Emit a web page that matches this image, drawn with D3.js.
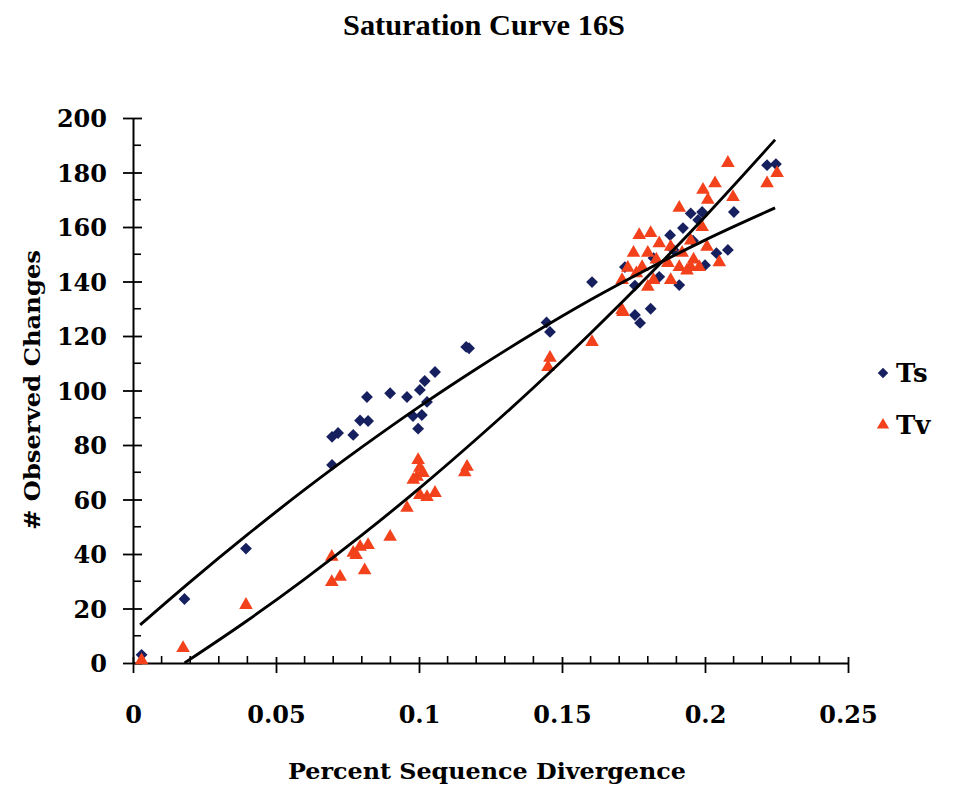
<!DOCTYPE html>
<html><head><meta charset="utf-8">
<script src="https://cdn.jsdelivr.net/npm/d3@7"></script>
<style>body{margin:0;background:#fff;} svg{display:block;}</style>
</head><body>
<svg id="chart" width="979" height="789"></svg>
<script>
// ---- data ----
const tsX = [0.003,0.018,0.0395,0.0696,0.0696,0.0717,0.077,0.0794,0.0822,0.0818,0.0899,0.0958,0.0979,0.0997,0.1003,0.101,0.102,0.1028,0.1056,0.1165,0.1175,0.1446,0.1458,0.1605,0.172,0.1755,0.1755,0.1773,0.181,0.182,0.184,0.1878,0.189,0.191,0.1923,0.195,0.1958,0.1976,0.199,0.2,0.204,0.208,0.2101,0.2217,0.2248];
const tsY = [3,23.5,42,72.7,83,84.4,83.7,89,88.8,97.6,99,97.6,90.6,86,100.2,91,103.5,95.8,106.8,116,115.5,125,121.5,139.8,145.3,138.5,127.7,124.8,130,148.6,141.7,157,151.6,138.7,159.6,165,155,162.6,165.5,146,150.4,151.6,165.5,182.7,183.1];
const tvX = [0.003,0.0175,0.0395,0.0695,0.0695,0.0724,0.077,0.0794,0.0822,0.078,0.081,0.0899,0.0958,0.0997,0.1003,0.0993,0.098,0.1014,0.1003,0.1028,0.1056,0.1168,0.116,0.1458,0.1451,0.1605,0.1713,0.171,0.208,0.2252,0.2217,0.2035,0.1993,0.2098,0.201,0.191,0.177,0.181,0.175,0.171,0.199,0.195,0.184,0.188,0.18,0.192,0.196,0.2007,0.183,0.187,0.178,0.176,0.191,0.195,0.198,0.182,0.18,0.188,0.1937,0.173,0.205];
const tvY = [1,5.5,21.3,39,29.7,31.6,40.4,42.6,43.3,39.6,34,46.3,56.9,74.5,71.6,68.3,67.2,69.7,61.6,60.9,62.4,72,70,112,108.6,117.8,128.8,129.5,183.5,179.8,176,176,173.6,171,170,167,157,157.8,150.5,140.5,160,155,154,152.7,150.5,150.5,148,152.7,148,146.8,145.3,143,145.3,145.3,145.3,140.5,138,140.5,144,145,147];
// trend lines
const tsTrendX = [0.0025,0.02,0.04,0.06,0.08,0.1,0.12,0.14,0.16,0.18,0.2,0.2245];
const tsTrendY = [14,29.8,47.1,63.6,79.2,94,107.9,121,133.3,144.6,155.2,167];
const tvTrendX = [0.018,0.04,0.06,0.08,0.1,0.12,0.14,0.16,0.18,0.2,0.2245];
const tvTrendY = [0,15.6,30.8,46.9,64,82.1,101,121,141.9,163.8,192];
const xTicks = [0,0.05,0.1,0.15,0.2,0.25];
const xTickLabels = ["0","0.05","0.1","0.15","0.2","0.25"];
const yTicks = [0,20,40,60,80,100,120,140,160,180,200];
const seriesNames = ["Ts","Tv"];
const title = "Saturation Curve 16S";
const xTitle = "Percent Sequence Divergence";
const yTitle = "# Observed Changes";

const blue = "#17205e", red = "#f2411b";
const svg = d3.select("#chart");
const x = d3.scaleLinear().domain([0,0.25]).range([133,848]);
const y = d3.scaleLinear().domain([0,200]).range([663,118]);
const serif = "'Liberation Serif', 'Times New Roman', serif";
const wide = "'DejaVu Serif', serif";

// title
svg.append("text").attr("x",484).attr("y",35).attr("text-anchor","middle")
  .attr("font-family",serif).attr("font-weight","bold").attr("font-size",29)
  .attr("textLength",282).attr("lengthAdjust","spacingAndGlyphs")
  .text(title);

// minor ticks
const minorX = d3.range(0,0.2501,0.01).filter(v=>Math.abs((v/0.05)-Math.round(v/0.05))>1e-6);
svg.append("g").selectAll("line").data(minorX).join("line")
  .attr("x1",d=>x(d)).attr("x2",d=>x(d)).attr("y1",663).attr("y2",656)
  .attr("stroke","#000").attr("stroke-width",1.6);
const minorY = d3.range(10,200,20);
svg.append("g").selectAll("line").data(minorY).join("line")
  .attr("x1",133).attr("x2",141).attr("y1",d=>y(d)).attr("y2",d=>y(d))
  .attr("stroke","#000").attr("stroke-width",1.6);

// axes
const xAxis = d3.axisBottom(x).tickValues(xTicks).tickFormat((d,i)=>xTickLabels[i]).tickSizeInner(10).tickSizeOuter(0).tickPadding(42);
const gx = svg.append("g").attr("transform","translate(0,663)").call(xAxis);
gx.select(".domain").attr("stroke","#000").attr("stroke-width",2);
gx.selectAll(".tick line").attr("y1",-6).attr("stroke-width",1.8);
gx.selectAll(".tick text").attr("font-family",wide).attr("font-weight","bold").attr("font-size",24).attr("fill","#000").attr("dy","0.35em");

const yAxis = d3.axisLeft(y).tickValues(yTicks).tickSizeInner(10).tickSizeOuter(0).tickPadding(16);
const gy = svg.append("g").attr("transform","translate(133,0)").call(yAxis);
gy.select(".domain").attr("stroke","#000").attr("stroke-width",2);
gy.selectAll(".tick line").attr("x1",9).attr("stroke-width",1.8);
gy.selectAll(".tick text").attr("font-family",wide).attr("font-weight","bold").attr("font-size",24).attr("fill","#000").attr("dy","0.36em");

// axis titles
svg.append("text").attr("x",487).attr("y",779).attr("text-anchor","middle")
  .attr("font-family",wide).attr("font-weight","bold").attr("font-size",23)
  .attr("textLength",398).attr("lengthAdjust","spacingAndGlyphs").text(xTitle);
svg.append("text").attr("transform","translate(40,390) rotate(-90)").attr("text-anchor","middle")
  .attr("font-family",wide).attr("font-weight","bold").attr("font-size",23)
  .attr("textLength",280).attr("lengthAdjust","spacingAndGlyphs").text(yTitle);

// points
const diamond = d3.symbol(d3.symbolSquare, 70);
const tri = d3.symbol(d3.symbolTriangle, 80);
const ts = tsX.map((v,i)=>({x:v,y:tsY[i]}));
const tv = tvX.map((v,i)=>({x:v,y:tvY[i]}));
svg.append("g").selectAll("path").data(ts).join("path")
  .attr("d",diamond).attr("fill",blue)
  .attr("transform",d=>`translate(${x(d.x)},${y(d.y)}) rotate(45)`);
svg.append("g").selectAll("path").data(tv).join("path")
  .attr("d",tri).attr("fill",red)
  .attr("transform",d=>`translate(${x(d.x)},${y(d.y)})`);

// trend lines
const line = d3.line().x(d=>x(d[0])).y(d=>y(d[1])).curve(d3.curveMonotoneX);
svg.append("path").datum(tsTrendX.map((v,i)=>[v,tsTrendY[i]]))
  .attr("d",line).attr("fill","none").attr("stroke","#000").attr("stroke-width",2.9);
svg.append("path").datum(tvTrendX.map((v,i)=>[v,tvTrendY[i]]))
  .attr("d",line).attr("fill","none").attr("stroke","#000").attr("stroke-width",2.9);

// legend
const lg = svg.append("g");
lg.append("path").attr("d",d3.symbol(d3.symbolSquare,55)).attr("fill",blue)
  .attr("transform","translate(883,373) rotate(45)");
lg.append("path").attr("d",d3.symbol(d3.symbolTriangle,65)).attr("fill",red)
  .attr("transform","translate(883,425)");
lg.selectAll("text").data(seriesNames).join("text")
  .attr("x",896).attr("y",(d,i)=>373+i*52).attr("dy","0.36em")
  .attr("font-family",wide).attr("font-weight","bold").attr("font-size",26).text(d=>d);
</script>
</body></html>
